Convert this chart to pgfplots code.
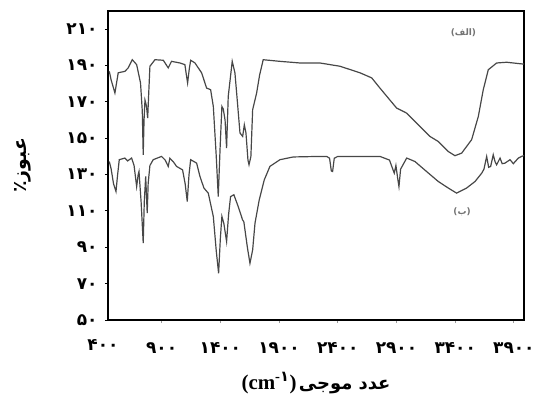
\documentclass[border=0pt]{standalone}
\usepackage{fontspec}
\setmainfont{Liberation Serif}
\newfontfamily\arabicfont[Script=Arabic]{DejaVu Sans}
\TeXXeTstate=1
\usepackage{pgfplots}
\pgfplotsset{compat=1.18}
\newcommand{\cmunit}{{\fontsize{21}{23}\selectfont\bfseries(cm\textsuperscript{-{\arabicfont ۱}})}}
\begin{document}
\begin{tikzpicture}
\begin{axis}[
  scale only axis, width=416bp, height=309bp,
  xmin=443, xmax=3986, ymin=50, ymax=220,
  clip=false,
  axis line style={line width=1.6pt, black},
  xtick={900,1400,1900,2400,2900,3400,3900},
  xticklabels={۹۰۰,۱۴۰۰,۱۹۰۰,۲۴۰۰,۲۹۰۰,۳۴۰۰,۳۹۰۰},
  ytick={50,70,90,110,130,150,170,190,210},
  yticklabels={۵۰,۷۰,۹۰,۱۱۰,۱۳۰,۱۵۰,۱۷۰,۱۹۰,۲۱۰},
  tick align=outside, major tick length=3bp,
  x tick style={black!40, line width=1pt},
  y tick style={black, line width=1pt},
  xtick pos=bottom, ytick pos=left,
  ticklabel style={font=\arabicfont\bfseries\fontsize{17}{19}\selectfont},
  x tick label style={anchor=center, yshift=-25bp},
  y tick label style={anchor=east, xshift=-4bp},
  xlabel={\cmunit\ {\arabicfont\bfseries\fontsize{18}{20}\selectfont\beginR عدد موجی\endR}},
  xlabel style={at={(axis description cs:0.5,-0.204)}, anchor=center},
  ylabel={\arabicfont\bfseries\beginR عبوز٪\endR},
  ylabel style={font=\fontsize{19}{21}\selectfont, at={(axis description cs:-0.204,0.5)}, anchor=center},
]
\addplot[black!72, line width=1.2pt] coordinates {
(454,186.8) (470,182) (502,174.9) (530,186) (587,186.8) (615,188.7) (650,193.2) (687,190.5)
(720,180.4) (735,165) (743,140.9) (750,160) (758,171) (770,168) (781,161.1) (790,175)
(800,189.6) (843,193.2) (914,192.9) (956,188.7) (984,192.3) (1056,191.4) (1098,190.5)
(1110,185) (1121,180.4) (1135,188) (1147,192.9) (1184,191.4) (1240,186) (1283,177.6)
(1317,176.7) (1340,167.5) (1365,140) (1382,117.9) (1398,145) (1413,167.5) (1425,166)
(1440,160) (1453,144.6) (1467,173) (1501,192.3) (1524,186) (1545,170) (1567,152.9)
(1590,151) (1604,157.4) (1618,152.9) (1635,138) (1644,135.4) (1660,140) (1675,165.7)
(1709,174.9) (1735,185) (1765,193.2) (1908,192.3) (2078,191.4) (2248,191.4) (2419,189.6)
(2589,186) (2689,183.2) (2759,177.6) (2830,172.1) (2901,166.6) (2987,163.8) (3100,156.5)
(3185,151) (3256,148.2) (3341,142.7) (3398,140.4) (3455,141.8) (3540,149.2) (3597,162)
(3639,176.7) (3682,187.7) (3753,191.4) (3838,191.8) (3966,190.9) (3986,190.8)
};
\addplot[black!72, line width=1.2pt] coordinates {
(454,137.2) (470,133) (490,125) (511,120.7) (525,130) (539,138.2) (587,139.1) (610,137.5)
(644,139.1) (665,135) (687,123.4) (700,130) (707,131.7) (725,115) (743,92.3) (752,115)
(764,129) (777,108.8) (785,125) (800,135) (828,138.2) (899,140) (930,138) (956,134.5)
(970,139) (1000,137) (1027,134.5) (1078,132.6) (1100,125) (1118,115.2) (1133,130)
(1147,138.2) (1198,136.3) (1226,129) (1260,122.6) (1297,119.8) (1340,106.9) (1365,88)
(1385,75.7) (1400,95) (1413,107) (1430,103) (1453,93.2) (1470,108) (1487,117.9)
(1515,118.9) (1552,112.4) (1589,105.1) (1600,104) (1630,90) (1652,81.2) (1675,88.6)
(1695,103.3) (1731,116.1) (1774,127.1) (1822,134.5) (1908,138.2) (2021,139.7) (2248,140)
(2305,140) (2330,139) (2345,132) (2356,131.7) (2370,139) (2400,140) (2759,140) (2840,138)
(2881,130.8) (2895,135) (2910,128) (2921,123.4) (2935,133) (2987,139.1) (3057,137.2)
(3156,131.7) (3256,126.2) (3341,122.6) (3412,119.8) (3497,122.6) (3569,126.2) (3626,130.8)
(3645,133) (3668,140) (3685,134) (3702,134.5) (3724,140.9) (3740,137) (3753,135.4)
(3782,139.1) (3800,136) (3824,136.3) (3867,138.2) (3895,136) (3938,139.1) (3966,140) (3986,140.5)
};
\node[font=\arabicfont\bfseries\fontsize{9}{10}\selectfont, text=black!55] at (axis cs:3470,208) {\beginR(الف)\endR};
\node[font=\arabicfont\bfseries\fontsize{9}{10}\selectfont, text=black!55] at (axis cs:3458,109.5) {\beginR(ب)\endR};
\node[font=\arabicfont\bfseries\fontsize{17}{19}\selectfont, anchor=center, yshift=-25bp] at (axis cs:400,50) {۴۰۰};
\end{axis}
\pgfresetboundingbox
\useasboundingbox ([shift={(-108bp,-78bp)}]current axis.south west) rectangle ([shift={(15bp,11bp)}]current axis.north east);
\end{tikzpicture}
\end{document}
